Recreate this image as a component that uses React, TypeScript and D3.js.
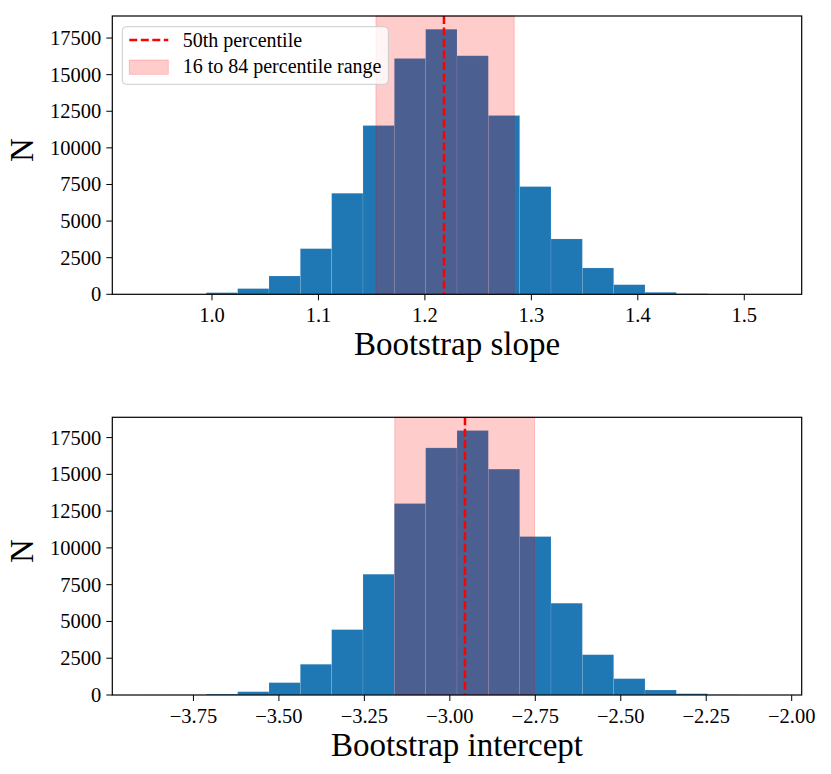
import React, { useEffect, useRef } from "react";
import * as d3 from "d3";

// histogram counts (20 bins each)
const slopeCounts = [1, 3, 115, 390, 1250, 3117, 6900, 11525, 16105, 18100, 16290, 12210, 7355, 3780, 1800, 656, 137, 40, 3, 1];
const slopeRange = [0.9358, 1.5245];
const slopePercentiles = [1.154, 1.2179, 1.2839]; // 16th, 50th, 84th
const slopeTicks = [1.0, 1.1, 1.2, 1.3, 1.4, 1.5];
const slopeTickLabels = ["1.0", "1.1", "1.2", "1.3", "1.4", "1.5"];

const interceptCounts = [1, 4, 60, 225, 840, 2090, 4445, 8210, 13015, 16800, 17980, 15355, 10770, 6240, 2740, 1110, 340, 90, 12, 1];
const interceptRange = [-3.8957, -2.0624];
const interceptPercentiles = [-3.161, -2.9557, -2.7524];
const interceptTicks = [-3.75, -3.5, -3.25, -3.0, -2.75, -2.5, -2.25, -2.0];
const interceptTickLabels = ["−3.75", "−3.50", "−3.25", "−3.00", "−2.75", "−2.50", "−2.25", "−2.00"];

const countTicks = [0, 2500, 5000, 7500, 10000, 12500, 15000, 17500];
const legendLabels = ["50th percentile", "16 to 84 percentile range"];

const FONT = "'Liberation Serif', 'Times New Roman', serif";

function drawPanel(svg, p) {
  const { counts, range, pct, ticks, tickLabels, xlabel, top, bottom, legend } = p;
  const left = 112.3;
  const right = 801.7;
  const nBins = counts.length;
  const span = range[1] - range[0];
  const edges = d3.range(nBins + 1).map((i) => range[0] + (i * span) / nBins);

  const x = d3
    .scaleLinear()
    .domain([range[0] - 0.05 * span, range[1] + 0.05 * span])
    .range([left, right]);
  const y = d3
    .scaleLinear()
    .domain([0, 1.05 * d3.max(counts)])
    .range([bottom, top]);

  const g = svg.append("g");

  // bars
  g.selectAll("rect.bar")
    .data(counts)
    .enter()
    .append("rect")
    .attr("class", "bar")
    .attr("x", (d, i) => x(edges[i]))
    .attr("width", (d, i) => x(edges[i + 1]) - x(edges[i]))
    .attr("y", (d) => y(d))
    .attr("height", (d) => bottom - y(d))
    .attr("fill", "#1f77b4")
    .attr("stroke", "rgba(255,255,255,0.15)")
    .attr("stroke-width", 0.8);

  // 16-84 band
  g.append("rect")
    .attr("x", x(pct[0]))
    .attr("width", x(pct[2]) - x(pct[0]))
    .attr("y", top)
    .attr("height", bottom - top)
    .attr("fill", "red")
    .attr("fill-opacity", 0.2)
    .attr("stroke", "red")
    .attr("stroke-opacity", 0.2);

  // median
  g.append("line")
    .attr("x1", x(pct[1]))
    .attr("x2", x(pct[1]))
    .attr("y1", top)
    .attr("y2", bottom)
    .attr("stroke", "red")
    .attr("stroke-width", 2.5)
    .attr("stroke-dasharray", "8,3.5");

  // frame
  g.append("rect")
    .attr("x", left)
    .attr("y", top)
    .attr("width", right - left)
    .attr("height", bottom - top)
    .attr("fill", "none")
    .attr("stroke", "#000")
    .attr("stroke-width", 1.2);

  // x ticks
  ticks.forEach((t, i) => {
    g.append("line")
      .attr("x1", x(t))
      .attr("x2", x(t))
      .attr("y1", bottom)
      .attr("y2", bottom + 6)
      .attr("stroke", "#000")
      .attr("stroke-width", 1);
    g.append("text")
      .attr("x", x(t))
      .attr("y", bottom + 28)
      .attr("text-anchor", "middle")
      .style("font-family", FONT)
      .style("font-size", "20.5px")
      .text(tickLabels[i]);
  });

  // y ticks
  countTicks.forEach((t) => {
    g.append("line")
      .attr("x1", left - 6)
      .attr("x2", left)
      .attr("y1", y(t))
      .attr("y2", y(t))
      .attr("stroke", "#000")
      .attr("stroke-width", 1);
    g.append("text")
      .attr("x", left - 11)
      .attr("y", y(t))
      .attr("dy", "0.34em")
      .attr("text-anchor", "end")
      .style("font-family", FONT)
      .style("font-size", "20.5px")
      .text(String(t));
  });

  // axis labels
  g.append("text")
    .attr("x", (left + right) / 2)
    .attr("y", bottom + 61)
    .attr("text-anchor", "middle")
    .style("font-family", FONT)
    .style("font-size", "33px")
    .text(xlabel);

  g.append("text")
    .attr("transform", `translate(33,${(top + bottom) / 2 - 5}) rotate(-90)`)
    .attr("text-anchor", "middle")
    .style("font-family", FONT)
    .style("font-size", "33px")
    .text("N");

  if (legend) {
    const lx = 122.3;
    const ly = top + 10.7;
    const lg = g.append("g");
    lg.append("rect")
      .attr("x", lx)
      .attr("y", ly)
      .attr("width", 266)
      .attr("height", 57.6)
      .attr("rx", 4)
      .attr("fill", "white")
      .attr("fill-opacity", 0.8)
      .attr("stroke", "#cccccc")
      .attr("stroke-width", 1);
    lg.append("line")
      .attr("x1", lx + 7)
      .attr("x2", lx + 46)
      .attr("y1", ly + 13.3)
      .attr("y2", ly + 13.3)
      .attr("stroke", "red")
      .attr("stroke-width", 2.5)
      .attr("stroke-dasharray", "8,3.5");
    lg.append("rect")
      .attr("x", lx + 7)
      .attr("y", ly + 33.3)
      .attr("width", 39)
      .attr("height", 14.3)
      .attr("fill", "red")
      .attr("fill-opacity", 0.2)
      .attr("stroke", "red")
      .attr("stroke-opacity", 0.2);
    legendLabels.forEach((l, i) => {
      lg.append("text")
        .attr("x", lx + 60.4)
        .attr("y", ly + 20 + i * 26.6)
        .style("font-family", FONT)
        .style("font-size", "20px")
        .text(l);
    });
  }
}

function BootstrapHistograms() {
  const ref = useRef(null);

  useEffect(() => {
    d3.select(ref.current).select("svg").remove();

    const svg = d3
      .select(ref.current)
      .append("svg")
      .attr("width", 831)
      .attr("height", 774)
      .style("position", "absolute")
      .style("left", "0px")
      .style("top", "0px")
      .style("background", "white");

    drawPanel(svg, {
      counts: slopeCounts,
      range: slopeRange,
      pct: slopePercentiles,
      ticks: slopeTicks,
      tickLabels: slopeTickLabels,
      xlabel: "Bootstrap slope",
      top: 16,
      bottom: 294.3,
      legend: true,
    });

    drawPanel(svg, {
      counts: interceptCounts,
      range: interceptRange,
      pct: interceptPercentiles,
      ticks: interceptTicks,
      tickLabels: interceptTickLabels,
      xlabel: "Bootstrap intercept",
      top: 417.3,
      bottom: 695,
      legend: false,
    });
  }, []);

  return <div ref={ref}></div>;
}

export default function App() {
  return <BootstrapHistograms />;
}
